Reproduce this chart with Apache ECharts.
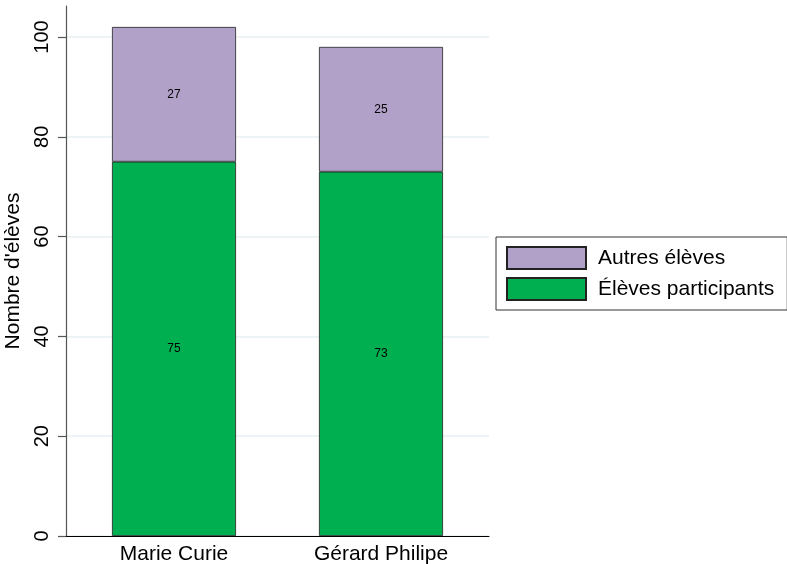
<!DOCTYPE html>
<html><head><meta charset="utf-8">
<script src="https://cdn.jsdelivr.net/npm/echarts@6/dist/echarts.min.js"></script>
<style>html,body{margin:0;padding:0;background:#fff}#c{width:787px;height:564px}</style>
</head><body><div id="c"></div>
<script>
const categories = ['Marie Curie', 'Gérard Philipe'];
const participants = [75, 73];
const autres = [27, 25];
const yTicks = [0, 20, 40, 60, 80, 100];
const seriesNames = ['Élèves participants', 'Autres élèves'];
const legendOrder = ['Autres élèves', 'Élèves participants'];

const font = 'Liberation Sans, Arial, Helvetica, sans-serif';
const chart = echarts.init(document.getElementById('c'), null, {renderer: 'canvas'});
const pos = categories.map((c, i) => i);
const barLabel = {show: true, position: 'inside', color: '#000', fontSize: 12, fontFamily: font,
  formatter: p => String(p.value[0])};
chart.setOption({
  animation: false,
  textStyle: {fontFamily: font},
  grid: {left: 66, right: 298, top: 6, bottom: 28, containLabel: false, outerBoundsMode: 'none'},
  xAxis: {
    type: 'value', min: -0.5217, max: 1.5217,
    axisLine: {show: true, onZero: false, lineStyle: {color: '#000', width: 1}},
    axisTick: {show: false},
    splitLine: {show: false},
    axisLabel: {
      customValues: pos, formatter: v => categories[Math.round(v)] || '',
      color: '#000', fontSize: 21, fontFamily: font, margin: 8
    }
  },
  yAxis: {
    type: 'value', min: 0, max: 106.2, interval: 20,
    name: "Nombre d'élèves", nameLocation: 'middle', nameGap: 35,
    nameTextStyle: {color: '#000', fontSize: 21, fontFamily: font},
    axisLine: {show: true, onZero: false, lineStyle: {color: '#555', width: 1.2}},
    axisTick: {show: true, length: 8, customValues: yTicks, lineStyle: {color: '#555', width: 1.2}},
    axisLabel: {customValues: yTicks, rotate: 90, color: '#000', fontSize: 20, fontFamily: font, margin: 14},
    splitLine: {show: true, lineStyle: {color: '#e8f0f3', width: 1.5}}
  },
  legend: {
    orient: 'vertical', left: 496, top: 237,
    data: legendOrder,
    itemWidth: 79, itemHeight: 22, itemGap: 7,
    padding: [9, 13, 9, 10],
    borderColor: '#333', borderWidth: 1,
    icon: 'rect',
    textStyle: {color: '#000', fontSize: 21, fontFamily: font, padding: [0, 0, 0, 7]}
  },
  series: [
    {
      name: seriesNames[0], type: 'bar', stack: 'a', barWidth: 124,
      encode: {x: 1, y: 0},
      data: participants.map((v, i) => [v, pos[i]]),
      itemStyle: {color: '#00B050', borderColor: '#222', borderWidth: 0.8},
      label: barLabel
    },
    {
      name: seriesNames[1], type: 'bar', stack: 'a', barWidth: 124,
      encode: {x: 1, y: 0},
      data: autres.map((v, i) => [v, pos[i]]),
      itemStyle: {color: '#B1A0C7', borderColor: '#222', borderWidth: 0.8},
      label: barLabel
    }
  ]
});
</script></body></html>
